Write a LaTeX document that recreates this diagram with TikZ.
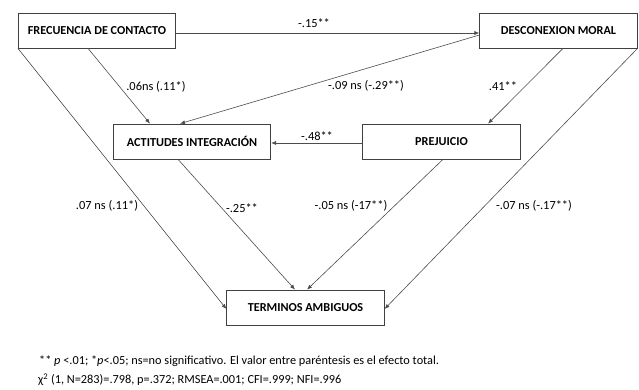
\documentclass[tikz,border=0pt]{standalone}
\usepackage{fontspec}
\setmainfont{Carlito}
\usetikzlibrary{arrows.meta,calc}

\tikzset{
  varbox/.style={draw=black!75, line width=0.7pt, minimum width=157.5pt, minimum height=35pt,
    inner sep=0pt, font=\bfseries\fontsize{12.2}{14}\selectfont},
  effect/.style={draw=black!70, line width=0.6pt, -{Latex[length=5pt,width=4pt]}},
  coef/.style={inner sep=0pt, font=\fontsize{12.4}{14}\selectfont},
  note/.style={inner sep=0pt, anchor=west, font=\fontsize{12.3}{14}\selectfont}
}

\begin{document}
\begin{tikzpicture}[x=1pt,y=-1pt]
%\draw[step=20pt,gray,very thin] (0,0) grid (639,390); %background grid
\useasboundingbox (0,0) rectangle (639,390);

\node[varbox] (frec) at (97,30.5)    {FRECUENCIA DE CONTACTO};
\node[varbox] (desc) at (558.5,30.5) {DESCONEXION MORAL};
\node[varbox] (acti) at (192,141.5)  {ACTITUDES INTEGRACIÓN};
\node[varbox] (prej) at (441.5,141.5){PREJUICIO};
\node[varbox] (term) at (305.5,307.5){TERMINOS AMBIGUOS};

\draw[effect] ($(frec.east)+(0,2.5)$) -- ($(desc.west)+(0,2.5)$);
\draw[effect] ($(desc.west)+(0,4.5)$) -- ($(acti.north)+(-12,0)$);
\draw[effect] ($(frec.south)+(-9,0)$) -- ($(acti.north)+(-42,0)$);
\draw[effect] ($(desc.south)+(4.5,0)$) -- ($(prej.north)+(46.5,0)$);
\draw[effect] ($(prej.west)+(0,1.5)$) -- ($(acti.east)+(0,1.5)$);

\draw[effect] (frec.south west) -- ($(term.west)+(0,1.5)$);
\draw[effect] ($(acti.south)+(-14,0)$) -- ($(term.north)+(-10.5,0)$);
\draw[effect] ($(prej.south)+(1.5,0)$) -- ($(term.north)+(1.5,0)$);
\draw[effect] (desc.south east) -- ($(term.east)+(0,1.5)$);

\node[coef] (c-fd) at (314,23)  {-.15**};
\node[coef] (c-fa) at (156,87)  {.06ns (.11*)};
\node[coef] (c-da) at (366,86)  {-.09 ns (-.29**)};
\node[coef] (c-dp) at (503,86)  {.41**};
\node[coef] (c-pa) at (317,136) {-.48**};

\node[coef] (c-ft) at (107,206) {.07 ns (.11*)};
\node[coef] (c-at) at (242,208) {-.25**};
\node[coef] (c-pt) at (351,206) {-.05 ns (-17**)};
\node[coef] (c-dt) at (534,206) {-.07 ns (-.17**)};

\node[note] (sig) at (39,361) {** \textit{p} <.01; *\textit{p}<.05; ns=no significativo. El valor entre paréntesis es el efecto total.};
\node[note] (fit) at (38,380) {χ\textsuperscript{2} (1, N=283)=.798, p=.372; RMSEA=.001; CFI=.999; NFI=.996};

\end{tikzpicture}
\end{document}
